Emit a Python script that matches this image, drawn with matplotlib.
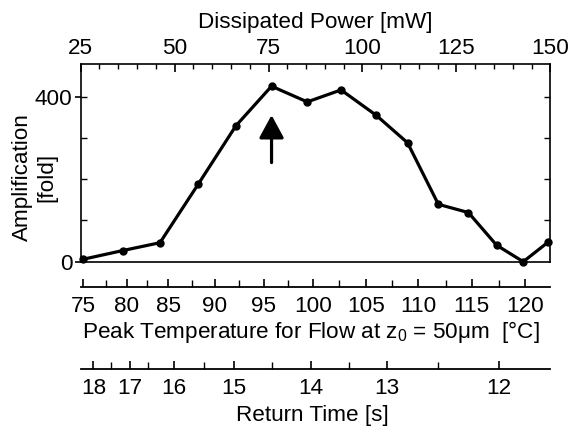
import matplotlib
matplotlib.use('Agg')
import matplotlib.pyplot as plt
from matplotlib.ticker import MultipleLocator

plt.rcParams['font.family'] = ['Liberation Sans', 'DejaVu Sans']
plt.rcParams['font.size'] = 16.2
plt.rcParams['mathtext.fontset'] = 'custom'
plt.rcParams['mathtext.rm'] = 'Liberation Sans'

# values
power = [25.7, 36.2, 46.1, 56.3, 66.3, 75.8, 85.3, 94.3, 103.6, 112.0, 120.2, 128.2, 135.7, 142.8, 149.5]
amplification = [6, 27, 46, 188, 329, 425, 387, 416, 355, 288, 139, 119, 40, 0, 48]

power_ticks = [25, 50, 75, 100, 125, 150]

# secondary scales: label -> power where the tick sits
temp_labels = [75, 80, 85, 90, 95, 100, 105, 110, 115, 120]
temp_major_pos = [25.6, 37.2, 48.3, 60.7, 73.8, 86.9, 100.9, 114.9, 129.1, 143.3]
temp_minor_pos = [31.7, 42.6, 54.5, 67.1, 80.3, 93.8, 107.8, 122.2, 136.3]

time_labels = [18, 17, 16, 15, 14, 13, 12]
time_major_pos = [28.4, 38.1, 49.8, 65.8, 86.3, 106.4, 136.3]
time_minor_pos = [33.1, 43.0, 57.8, 76.0, 96.5, 120.2]

arrow_x = 75.8
arrow_tail, arrow_tip = 240, 355

W, H = 571, 426


def box(l, t, r, b):
    return [l / W, 1 - b / H, (r - l) / W, (b - t) / H]


fig = plt.figure(figsize=(W / 100, H / 100), dpi=100)

ax = fig.add_axes(box(80.7, 63.5, 550.3, 261.7))
ax.plot(power, amplification, color='black', lw=2.3, marker='o', ms=5,
        clip_on=False, zorder=3)
ax.set_xlim(25, 150)
ax.set_ylim(0, 480)
for s in ax.spines.values():
    s.set_linewidth(1.2)

ax.xaxis.tick_top()
ax.set_xticks(power_ticks)
ax.xaxis.set_minor_locator(MultipleLocator(5))
ax.tick_params(axis='x', which='major', direction='in', length=6, width=1.2, pad=3)
ax.tick_params(axis='x', which='minor', direction='in', length=3.5, width=1)

ax.yaxis.remove_overlapping_locs = False
ax.set_yticks([0, 400])
ax.set_yticks([100, 200, 300, 400], minor=True)
ax.tick_params(axis='y', which='major', direction='out', length=4, width=1.2, pad=2,
               left=True, right=False)
ax.tick_params(axis='y', which='minor', direction='in', length=4.5, width=1,
               left=True, right=True)

ax.annotate('', xy=(arrow_x, arrow_tip), xytext=(arrow_x, arrow_tail),
            arrowprops=dict(arrowstyle='-|>,head_length=0.7,head_width=0.38',
                            mutation_scale=20, color='black', lw=2.3,
                            shrinkA=0, shrinkB=0))


def scale_axis(y, major_pos, labels, minor_pos):
    a = fig.add_axes(box(80.7, y, 550.3, y + 0.5))
    a.patch.set_visible(False)
    for side in ['top', 'left', 'right']:
        a.spines[side].set_visible(False)
    a.spines['bottom'].set_linewidth(1.3)
    a.set_xlim(25, 150)
    a.set_yticks([])
    a.set_xticks(major_pos, [str(v) for v in labels])
    a.set_xticks(minor_pos, minor=True)
    a.tick_params(axis='x', which='major', direction='in', length=6, width=1.2, pad=6.5)
    a.tick_params(axis='x', which='minor', direction='in', length=5, width=1)
    return a


scale_axis(286, temp_major_pos, temp_labels, temp_minor_pos)
scale_axis(368.3, time_major_pos, time_labels, time_minor_pos)

fig.text(315 / W, 1 - 28.3 / H, 'Dissipated Power [mW]', ha='center', va='baseline')
fig.text(311 / W, 1 - 338.3 / H,
         'Peak Temperature for Flow at $\\mathregular{z_0}$ = 50\u03bcm  [\u00b0C]',
         ha='center', va='baseline')
fig.text(312 / W, 1 - 421.5 / H, 'Return Time [s]', ha='center', va='baseline')
fig.text(34.7 / W, 1 - 177 / H, 'Amplification\n[fold]', rotation=90,
         ha='center', va='center', multialignment='center', linespacing=1.25)

fig.savefig('out.png', dpi=100)
